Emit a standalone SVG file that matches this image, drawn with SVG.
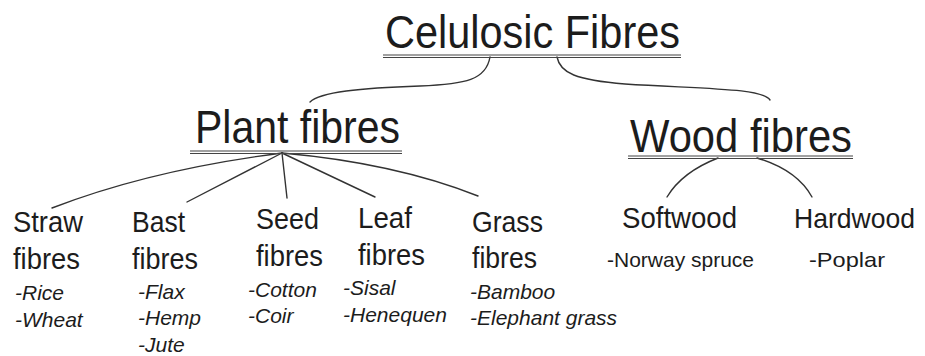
<svg xmlns="http://www.w3.org/2000/svg" width="925" height="356" viewBox="0 0 925 356">
<style>
text{font-family:"Liberation Sans",Arial,sans-serif;fill:#1c1c1c}
.h{font-size:47px}
.m{font-size:29.5px}
.s{font-size:21px;font-style:italic}
.r{font-size:21px}
.ul{stroke:#444;stroke-width:1.2;fill:none}
.c{stroke:#333;stroke-width:1.4;fill:none;stroke-linecap:round}
</style>
<rect width="925" height="356" fill="#fff"/>
<g id="connectors">
<path class="c" d="M490,57 C486,80 466,84 420,86 C360,88 320,92 310,102"/>
<path class="c" d="M557,57 C560,73 576,80 625,84 C705,89 762,88 770,100"/>
<path class="c" d="M282,153 Q150,170 52,208"/>
<path class="c" d="M282,153 L187,202"/>
<path class="c" d="M282,153 L287,198"/>
<path class="c" d="M282,153 L375,197"/>
<path class="c" d="M282,153 Q395,163 478,196"/>
<path class="c" d="M718,158 Q682,172 667,197"/>
<path class="c" d="M757,158 Q797,170 812,197"/>
</g>
<g id="celulosic">
<text class="h" x="385" y="48" textLength="295" lengthAdjust="spacingAndGlyphs">Celulosic Fibres</text>
<line class="ul" x1="383" y1="55" x2="681" y2="55"/>
<line class="ul" x1="383" y1="57.5" x2="681" y2="57.5"/>
</g>
<g id="plant">
<text class="h" x="195" y="143" textLength="205" lengthAdjust="spacingAndGlyphs">Plant fibres</text>
<line class="ul" x1="190" y1="151" x2="402" y2="151"/>
<line class="ul" x1="190" y1="153.5" x2="402" y2="153.5"/>
</g>
<g id="wood">
<text class="h" x="630" y="152" textLength="222" lengthAdjust="spacingAndGlyphs">Wood fibres</text>
<line class="ul" x1="628" y1="156" x2="853" y2="156"/>
<line class="ul" x1="628" y1="158.5" x2="853" y2="158.5"/>
</g>
<g id="straw">
<text class="m" x="13" y="232" textLength="70" lengthAdjust="spacingAndGlyphs">Straw</text>
<text class="m" x="13" y="269" textLength="67" lengthAdjust="spacingAndGlyphs">fibres</text>
<text class="s" x="15" y="300">-Rice</text>
<text class="s" x="15" y="327">-Wheat</text>
</g>
<g id="bast">
<text class="m" x="132" y="232" textLength="53" lengthAdjust="spacingAndGlyphs">Bast</text>
<text class="m" x="132" y="269" textLength="66" lengthAdjust="spacingAndGlyphs">fibres</text>
<text class="s" x="138" y="299">-Flax</text>
<text class="s" x="138" y="325">-Hemp</text>
<text class="s" x="138" y="352">-Jute</text>
</g>
<g id="seed">
<text class="m" x="256" y="229" textLength="63" lengthAdjust="spacingAndGlyphs">Seed</text>
<text class="m" x="256" y="266" textLength="67" lengthAdjust="spacingAndGlyphs">fibres</text>
<text class="s" x="248" y="297">-Cotton</text>
<text class="s" x="248" y="323">-Coir</text>
</g>
<g id="leaf">
<text class="m" x="358" y="228" textLength="54" lengthAdjust="spacingAndGlyphs">Leaf</text>
<text class="m" x="358" y="265" textLength="67" lengthAdjust="spacingAndGlyphs">fibres</text>
<text class="s" x="343" y="295">-Sisal</text>
<text class="s" x="343" y="322">-Henequen</text>
</g>
<g id="grass">
<text class="m" x="472" y="232" textLength="71" lengthAdjust="spacingAndGlyphs">Grass</text>
<text class="m" x="472" y="268" textLength="65" lengthAdjust="spacingAndGlyphs">fibres</text>
<text class="s" x="470" y="299">-Bamboo</text>
<text class="s" x="470" y="325">-Elephant grass</text>
</g>
<g id="softwood">
<text class="m" x="622" y="228" textLength="115" lengthAdjust="spacingAndGlyphs">Softwood</text>
<text class="r" x="607" y="267">-Norway spruce</text>
</g>
<g id="hardwood">
<text x="794" y="228" font-size="28" textLength="121" lengthAdjust="spacingAndGlyphs">Hardwood</text>
<text class="r" x="809" y="267" textLength="76" lengthAdjust="spacingAndGlyphs">-Poplar</text>
</g>
</svg>
